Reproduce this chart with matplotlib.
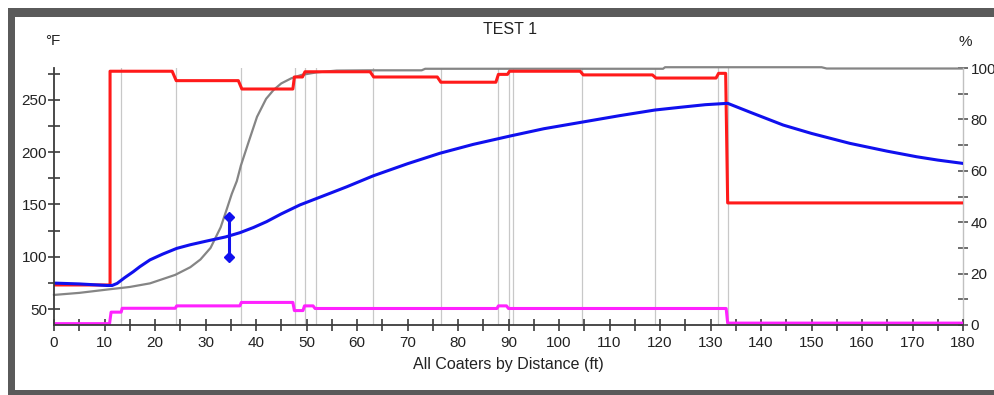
import matplotlib
matplotlib.use("Agg")
import matplotlib.pyplot as plt
from matplotlib.patches import Rectangle
from matplotlib.ticker import MultipleLocator

plt.rcParams['font.family'] = ['Liberation Sans', 'DejaVu Sans']

# zone boundaries (ft)
zone_x = [13.3, 24.2, 37.0, 47.7, 49.7, 51.9, 63.2, 76.6, 87.9, 90.1, 90.8,
          104.6, 119.0, 131.4, 133.4]

# red: set point (°F)
red_x = [0, 11.1, 11.1, 23.4, 24.2, 36.5, 37.2, 47.3, 47.6, 49.2, 49.7, 62.6,
         63.3, 75.9, 76.6, 87.5, 88.0, 89.8, 90.2, 104.2, 104.8, 118.5, 119.2,
         131.1, 131.6, 133.0, 133.4, 180]
red_y = [73, 73, 277.5, 277.5, 268.5, 268.5, 260.5, 260.5, 272, 272, 277, 277,
         272, 272, 267, 267, 274.5, 274.5, 277.5, 277.5, 274, 274, 271,
         271, 275.5, 275.5, 151.5, 151.5]

# blue: web temperature (°F)
blue_x = [0, 5, 10.5, 11.5, 12.5, 14, 15.7, 17, 19, 21.5, 24.3, 27, 30.2, 34,
          36.8, 39.5, 42.1, 45, 48.7, 54.7, 58, 63.2, 70, 76.4, 83, 90.3, 97,
          104.8, 112, 119, 124, 129, 133.4, 138, 144.4, 150, 157.6, 165, 170.8,
          175, 180]
blue_y = [74.8, 74, 72.5, 72.5, 74.5, 80, 85.7, 90.5, 97, 102.5, 108, 111.5,
          115, 119, 123, 128, 133.6, 141, 149.6, 160.8, 167, 177.4, 189, 199,
          207.5, 215.5, 222.5, 229, 235, 240.4, 243, 245.5, 246.8, 238, 226,
          218, 208.5, 201, 195.7, 192.5, 189.3]

# magenta (°F)
mag_x = [0, 11.0, 11.3, 13.3, 13.5, 24.0, 24.3, 36.8, 37.1, 47.3, 47.6, 49.3,
         49.6, 51.3, 51.7, 87.7, 88.0, 89.6, 90.0, 133.1, 133.4, 180]
mag_y = [36, 36, 47, 47, 50.7, 50.7, 53, 53, 56.3, 56.3, 48.5, 48.5,
         53, 53, 50.5, 50.5, 53, 53, 50.5, 50.5, 36.5, 36.5]

# gray: percent dried (%)
gray_x = [0, 5, 11, 15, 19, 24, 27, 29, 31, 33, 34.2, 35.2, 36.2, 37, 38.5,
          40.2, 42, 43.5, 45, 47, 49, 52, 56, 62, 72.8, 73.5, 120.6, 121,
          152, 153, 180]
gray_y = [11.7, 12.5, 13.9, 14.8, 16.2, 19.5, 22.5, 25.5, 30, 38, 45, 51, 56,
          62, 71, 81, 88, 91.5, 94, 96, 97.3, 98.3, 99, 99.1, 99.1, 99.7,
          99.7, 100.3, 100.3, 99.8, 99.8]

# range marker (°F)
marker_x = [34.6, 34.6]
marker_y = [99.5, 137.8]

W, H = 994, 395
fig = plt.figure(figsize=(W / 100, H / 100), dpi=100)

# window frame
fig.patches.append(Rectangle((8 / W, 0), 1, 1 - 8 / H, transform=fig.transFigure,
                             facecolor='#5a5a5a', edgecolor='none', zorder=-10))
fig.patches.append(Rectangle((15 / W, 5 / H), 1, 1 - 22 / H, transform=fig.transFigure,
                             facecolor='white', edgecolor='none', zorder=-9))

ax = fig.add_axes([54 / W, 70 / H, (963 - 54) / W, (325 - 68) / H])
ax2 = ax.twinx()
ax2.set_zorder(ax.get_zorder() - 1)
ax.patch.set_visible(False)
ax2.patch.set_visible(False)

for xv in zone_x:
    ax2.axvline(xv, color='#c8c8c8', lw=0.9, zorder=1)
ax2.plot(gray_x, gray_y, color='#858585', lw=1.6, zorder=2, clip_on=False)

ax.plot(red_x, red_y, color='#ff1a1a', lw=2.2)
ax.plot(mag_x, mag_y, color='#ff22ff', lw=2.2)
ax.plot(blue_x, blue_y, color='#1010ee', lw=2.2)
ax.plot(marker_x, marker_y, color='#1010ee', lw=2.2, marker='D', markersize=5)

ax.set_xlim(0, 180)
ax.set_ylim(34.7, 280.6)
ax2.set_ylim(0, 100)

ax.xaxis.set_major_locator(MultipleLocator(10))
ax.xaxis.set_minor_locator(MultipleLocator(5))
ax.yaxis.set_major_locator(MultipleLocator(50))
ax.yaxis.set_minor_locator(MultipleLocator(25))
ax2.yaxis.set_major_locator(MultipleLocator(20))
ax2.yaxis.set_minor_locator(MultipleLocator(10))

for a in (ax, ax2):
    for s in a.spines.values():
        s.set_visible(False)
ax.spines['left'].set_visible(True)
ax.spines['left'].set_color('#3c3c3c')
ax.spines['left'].set_linewidth(1.3)
ax.spines['bottom'].set_visible(True)
ax.spines['bottom'].set_color('#3c3c3c')
ax.spines['bottom'].set_linewidth(1.3)
ax2.spines['right'].set_visible(True)
ax2.spines['right'].set_color('#c0c0c0')
ax2.spines['right'].set_linewidth(1.0)

ax.tick_params(axis='x', which='both', direction='inout', length=8, width=1.2,
               color='#3c3c3c', labelsize=11, pad=4, labelcolor='#222222')
ax.tick_params(axis='y', which='both', direction='inout', length=8, width=1.2,
               color='#3c3c3c', labelsize=11, pad=1, labelcolor='#222222')
ax2.tick_params(axis='y', which='both', direction='inout', length=7, width=1.2,
                color='#555555', labelsize=11, pad=2, labelcolor='#222222')

ax.set_xlabel('All Coaters by Distance (ft)', fontsize=11.5, color='#222222', labelpad=5)

fig.text(510 / W, 1 - 30 / H, 'TEST 1', ha='center', va='center', fontsize=11.5, color='#222222')
fig.text(53 / W, 1 - 41 / H, '°F', ha='center', va='center', fontsize=11, color='#222222')
fig.text(965 / W, 1 - 42 / H, '%', ha='center', va='center', fontsize=11, color='#222222')

fig.savefig('out.png', dpi=100)
